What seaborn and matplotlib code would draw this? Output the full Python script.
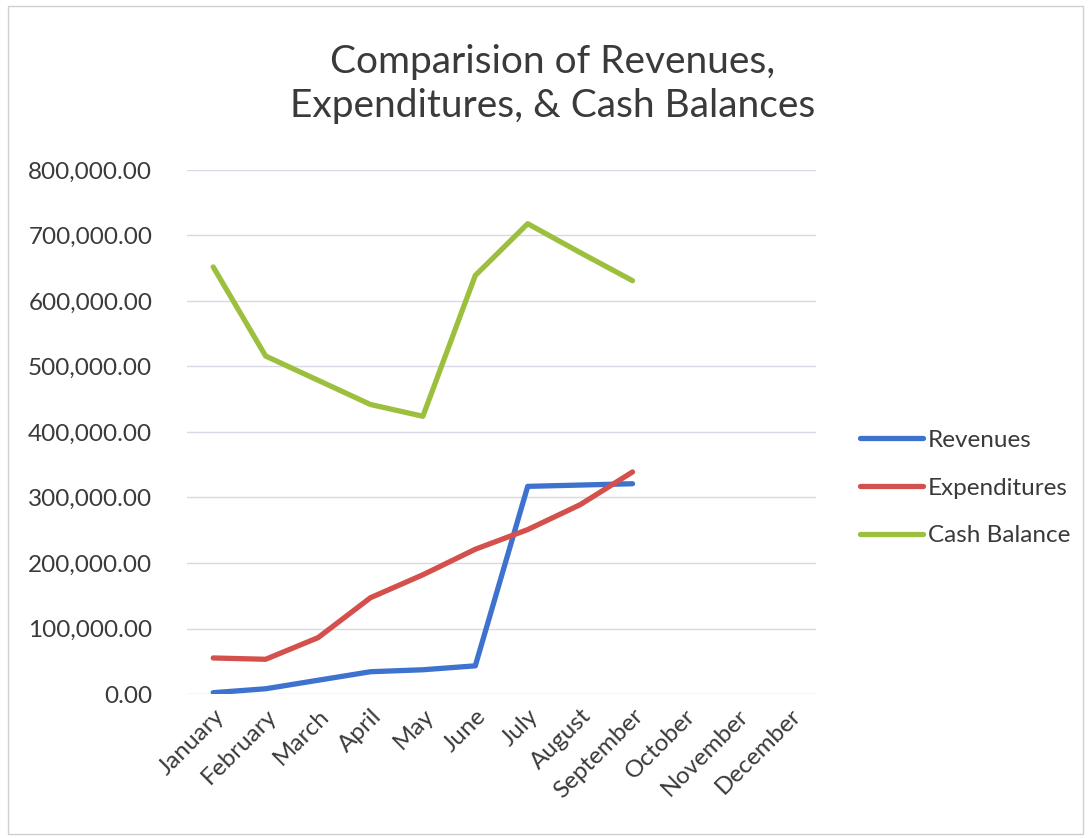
import pandas as pd
import matplotlib
matplotlib.use("Agg")
import matplotlib.pyplot as plt
import seaborn as sns
from matplotlib.ticker import FuncFormatter

months = ["January", "February", "March", "April", "May", "June", "July",
          "August", "September", "October", "November", "December"]
revenues = [2000, 8000, 21000, 34000, 37000, 43000, 317000, 319000, 321000]
expenditures = [55000, 53000, 86000, 147000, 182000, 221000, 251000, 289000, 339000]
cash_balance = [652000, 516000, 479000, 442000, 424000, 639000, 718000, 674000, 631000]

series = {"Revenues": revenues, "Expenditures": expenditures, "Cash Balance": cash_balance}
rows = []
for name, vals in series.items():
    for i, v in enumerate(vals):
        rows.append({"month": i, "value": v, "series": name})
df = pd.DataFrame(rows)

sns.set_style("white")
plt.rcParams['font.family'] = ['Lato', 'DejaVu Sans']
text_col = "#3a3a3a"

fig = plt.figure(figsize=(10.89, 8.38), dpi=100)
ax = fig.add_axes([187 / 1089, 1 - 694 / 838, 629 / 1089, 524 / 838])

palette = {"Revenues": "#3d72cf", "Expenditures": "#d4504c", "Cash Balance": "#9cc03e"}
sns.lineplot(data=df, x="month", y="value", hue="series", palette=palette,
             linewidth=3.8, ax=ax, legend=True)

ax.set_xlim(-0.5, 11.5)
ax.set_ylim(0, 800000)
ax.set_yticks(range(0, 800001, 100000))
ax.yaxis.set_major_formatter(FuncFormatter(lambda v, p: "0.00" if v == 0 else f"{v:,.2f}"))
ax.set_xticks(range(12))
ax.set_xticklabels(months, rotation=45, ha="right", rotation_mode="anchor")
ax.tick_params(axis="both", labelsize=17.5, colors=text_col, length=0)
ax.tick_params(axis="y", pad=25)
ax.tick_params(axis="x", pad=8)
ax.set_xlabel("")
ax.set_ylabel("")
ax.grid(axis="y", color="#d8d8e6", linewidth=1)
for s in ax.spines.values():
    s.set_visible(False)
ax.set_axisbelow(True)

handles, labels = ax.get_legend_handles_labels()
ax.legend_.remove()
fig.legend(handles, labels, loc="center left", bbox_to_anchor=(838 / 1089, 1 - 488 / 838),
           frameon=False, fontsize=17.5, handlelength=2.6, handletextpad=0.2,
           labelspacing=1.1, labelcolor=text_col)

fig.text(553 / 1089, 1 - 84 / 838, "Comparision of Revenues,\nExpenditures, & Cash Balances",
         ha="center", va="center", fontsize=28, color=text_col, linespacing=1.3)

fig.patches.append(plt.Rectangle((8 / 1089, 4 / 838), 1075 / 1089, 828 / 838,
                                 transform=fig.transFigure, fill=False,
                                 edgecolor="#d0d0d0", linewidth=1))

fig.savefig("out.png", dpi=100)
